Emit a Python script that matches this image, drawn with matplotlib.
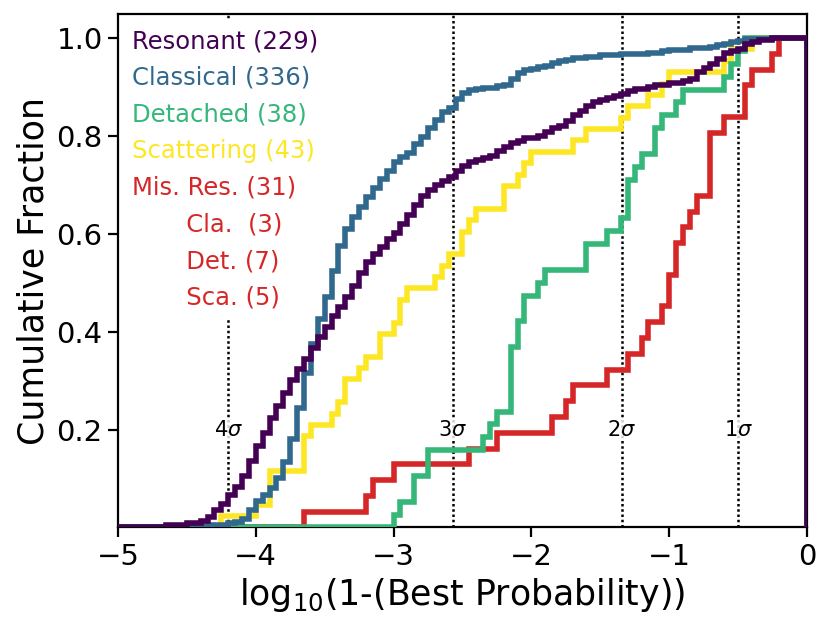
"""Cumulative distribution of log10(1 - best class probability) per dynamical class."""

import math

import matplotlib

matplotlib.use("Agg")
import matplotlib.pyplot as plt
import numpy as np
from matplotlib.lines import Line2D

# 100 bins of 0.05 dex between -5 and 0
BIN_EDGES = np.linspace(-5.0, 0.0, 101)

# cumulative number of objects at the right edge of each bin
RESONANT_CUM = [
    0, 0, 0, 0, 0, 0, 0, 1, 1, 1,
    2, 2, 3, 5, 8, 11, 15, 19, 24, 31,
    38, 44, 51, 57, 63, 69, 74, 79, 84, 89,
    94, 99, 103, 108, 113, 119, 124, 128, 131, 135,
    138, 142, 146, 151, 155, 158, 160, 162, 164, 167,
    169, 171, 172, 173, 174, 176, 178, 180, 181, 182,
    182, 183, 185, 187, 188, 190, 193, 195, 197, 199,
    200, 201, 202, 203, 204, 205, 205, 206, 207, 207,
    208, 208, 209, 210, 213, 215, 217, 219, 222, 223,
    224, 226, 227, 228, 228, 229, 229, 229, 229, 229,
]
CLASSICAL_CUM = [
    0, 0, 0, 0, 0, 0, 0, 0, 0, 0,
    1, 1, 1, 2, 2, 2, 3, 4, 6, 12,
    18, 22, 27, 34, 45, 61, 82, 106, 126, 143,
    158, 176, 193, 205, 213, 220, 227, 233, 239, 245,
    251, 254, 257, 263, 268, 274, 280, 285, 288, 294,
    298, 300, 301, 302, 302, 303, 304, 308, 312, 314,
    315, 316, 317, 319, 320, 321, 322, 322, 323, 323,
    324, 324, 324, 325, 325, 325, 325, 326, 326, 327,
    328, 328, 328, 329, 329, 329, 330, 331, 332, 333,
    334, 335, 335, 335, 335, 336, 336, 336, 336, 336,
]
DETACHED_CUM = [
    0, 0, 0, 0, 0, 0, 0, 0, 0, 0,
    0, 0, 0, 0, 0, 0, 0, 0, 0, 0,
    0, 0, 0, 0, 0, 0, 0, 0, 0, 0,
    0, 0, 0, 0, 0, 0, 0, 0, 0, 0,
    1, 2, 2, 4, 4, 6, 6, 6, 6, 6,
    6, 6, 6, 7, 8, 9, 9, 14, 16, 18,
    18, 19, 20, 20, 20, 20, 20, 20, 22, 22,
    22, 23, 23, 24, 27, 28, 29, 29, 31, 32,
    32, 33, 34, 34, 34, 34, 34, 34, 35, 36,
    37, 38, 38, 38, 38, 38, 38, 38, 38, 38,
]
SCATTERING_CUM = [
    0, 0, 0, 0, 0, 0, 0, 0, 0, 0,
    0, 0, 0, 0, 0, 1, 1, 1, 1, 1,
    2, 2, 5, 5, 5, 5, 5, 8, 9, 9,
    9, 10, 11, 13, 13, 14, 15, 15, 17, 17,
    18, 20, 21, 21, 21, 21, 22, 23, 24, 24,
    26, 27, 28, 28, 28, 28, 30, 30, 31, 32,
    33, 33, 33, 33, 33, 33, 34, 34, 35, 35,
    35, 35, 35, 36, 37, 37, 37, 38, 38, 39,
    40, 40, 40, 40, 40, 40, 40, 40, 41, 42,
    42, 42, 43, 43, 43, 43, 43, 43, 43, 43,
]
MISRES_CUM = [
    0, 0, 0, 0, 0, 0, 0, 0, 0, 0,
    0, 0, 0, 0, 0, 0, 0, 0, 0, 0,
    0, 0, 0, 0, 0, 0, 0, 1, 1, 1,
    1, 1, 1, 1, 1, 1, 2, 3, 3, 3,
    4, 4, 4, 4, 4, 4, 4, 4, 4, 4,
    4, 5, 5, 5, 5, 6, 6, 6, 6, 6,
    6, 6, 6, 7, 7, 8, 9, 9, 9, 9,
    9, 10, 10, 10, 11, 11, 12, 13, 13, 14,
    16, 18, 19, 20, 21, 21, 25, 25, 26, 26,
    26, 28, 29, 29, 29, 30, 31, 31, 31, 31,
]

LABELS = [
    "Resonant (229)",
    "Classical (336)",
    "Detached (38)",
    "Scattering (43)",
    "Mis. Res. (31)",
    "       Cla.  (3)",
    "       Det. (7)",
    "       Sca. (5)",
]

PURPLE = "#440154"
BLUE = "#31688e"
GREEN = "#35b779"
YELLOW = "#fde725"
RED = "#d62728"
LABEL_COLORS = [PURPLE, BLUE, GREEN, YELLOW, RED, RED, RED, RED]

SIGMAS = [1, 2, 3, 4]


def main() -> None:
    fig = plt.figure(figsize=(8.31, 6.29), dpi=100)
    ax = fig.add_axes([0.142, 0.1614, 0.829, 0.8171])

    # drawn back to front so Resonant ends up on top
    series = [
        (MISRES_CUM, RED),
        (SCATTERING_CUM, YELLOW),
        (DETACHED_CUM, GREEN),
        (CLASSICAL_CUM, BLUE),
        (RESONANT_CUM, PURPLE),
    ]
    for cum, color in series:
        cum = np.asarray(cum, dtype=float)
        ax.stairs(cum / cum[-1], BIN_EDGES, color=color, linewidth=4.0,
                  baseline=0.0, zorder=3)

    for n in SIGMAS:
        xs = math.log10(1.0 - math.erf(n / math.sqrt(2.0)))
        ax.axvline(xs, color="black", linestyle=(0, (1.0, 1.1)),
                   linewidth=1.8, zorder=2)
        ax.text(xs, 0.2, rf"${n}\sigma$", fontsize=15, ha="center",
                va="center", zorder=2.5,
                bbox=dict(facecolor="white", edgecolor="none", alpha=0.8,
                          pad=1.0))

    handles = [Line2D([], [], linestyle="none") for _ in LABELS]
    leg = ax.legend(handles, LABELS, loc="upper left",
                    bbox_to_anchor=(-0.003, 1.0), fontsize=17.5,
                    handlelength=0, handletextpad=0, labelspacing=0.52,
                    frameon=True, framealpha=1.0, edgecolor="none",
                    fancybox=False, borderaxespad=0.3, borderpad=0.35)
    # the white box hides the dotted lines but stays under the curves
    leg.set_zorder(2.7)
    for text, color in zip(leg.get_texts(), LABEL_COLORS):
        text.set_color(color)

    ax.set_xlim(-5, 0)
    ax.set_ylim(0, 1.05)
    ax.set_xticks([-5, -4, -3, -2, -1, 0])
    ax.set_yticks([0.2, 0.4, 0.6, 0.8, 1.0])
    ax.set_xlabel(r"log$_{10}$(1-(Best Probability))", fontsize=25)
    ax.set_ylabel("Cumulative Fraction", fontsize=25)
    ax.tick_params(labelsize=21, direction="out", length=7, width=1.6,
                   pad=4)
    for spine in ax.spines.values():
        spine.set_linewidth(1.6)

    fig.savefig("out.png", dpi=100, facecolor="white")
    plt.close(fig)


if __name__ == "__main__":
    main()
